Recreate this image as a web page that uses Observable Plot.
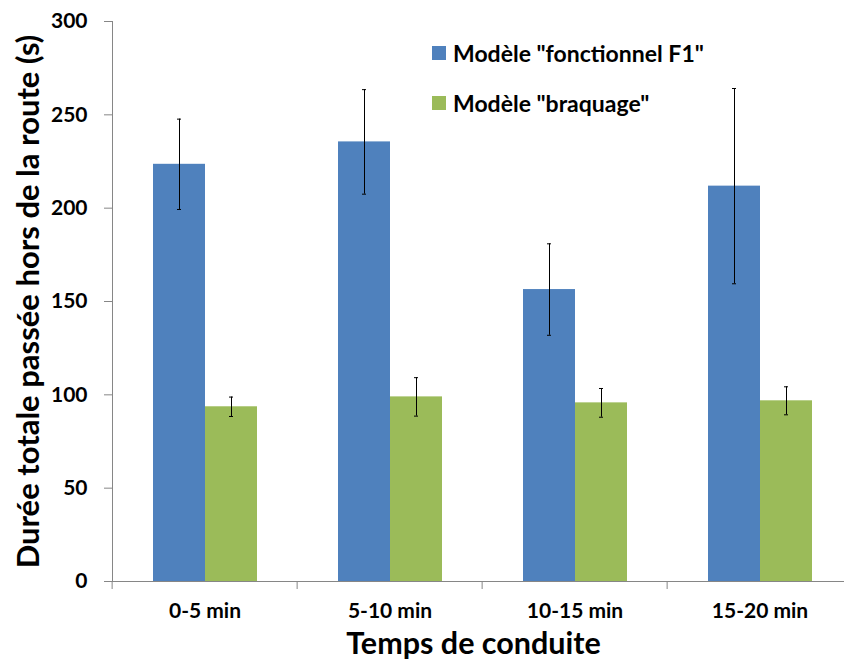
<!DOCTYPE html>
<html>
<head>
<meta charset="utf-8">
<script src="https://cdn.jsdelivr.net/npm/d3@7"></script>
<script src="https://cdn.jsdelivr.net/npm/@observablehq/plot@0.6"></script>
<style>
  html, body { margin: 0; padding: 0; background: #fff; overflow: hidden; }
  #wrap { position: relative; width: 844px; height: 664px; }
  #legend { position: absolute; left: 432px; top: 28px; }
  #legend .leg-swatches { margin: 0; min-height: 0; }
  #legend .leg-swatch { height: 50px; display: flex; align-items: center; padding: 0; margin: 0; }
  #legend .leg-swatch > svg { margin-right: 7px; }
</style>
</head>
<body>
<div id="wrap"><div id="chart"></div><div id="legend"></div></div>
<script>
// ---- data ----
const categories = ["0-5 min", "5-10 min", "10-15 min", "15-20 min"];
const series = ['Modèle "fonctionnel F1"', 'Modèle "braquage"'];
const f1Values = [223.5, 235.5, 156.4, 211.8];
const f1Errors = [24.2, 28.0, 24.5, 52.3];
const braquageValues = [93.6, 98.9, 95.7, 96.8];
const braquageErrors = [5.2, 10.3, 7.7, 7.5];
const yTicks = [0, 50, 100, 150, 200, 250, 300];
const seriesColors = ["#4F81BD", "#9BBB59"];
const yLabel = "Durée totale passée hors de la route (s)";
const xLabel = "Temps de conduite";

const data = categories.flatMap((c, i) => [
  {cat: c, series: series[0], value: f1Values[i], err: f1Errors[i]},
  {cat: c, series: series[1], value: braquageValues[i], err: braquageErrors[i]}
]);

// ---- layout ----
const W = 844, H = 664;
const mL = 110, mR = -9, mT = 21, mB = 83;
const step = (W - mL - mR) / categories.length;
const font = "Lato, 'Open Sans', sans-serif";
const axisGray = "#868686";

const chart = Plot.plot({
  width: W, height: H,
  marginLeft: mL, marginRight: mR, marginTop: mT, marginBottom: mB,
  style: {fontFamily: font, fontWeight: "bold", fontSize: "21px", color: "#000", background: "#fff"},
  fx: {domain: categories, padding: 0, axis: null},
  x: {domain: series, paddingInner: 0, paddingOuter: 0.75, axis: null},
  y: {domain: [0, 300], axis: null},
  color: {domain: series, range: seriesColors},
  marks: [
    Plot.barY(data, {fx: "cat", x: "series", y: "value", fill: "series"}),
    Plot.ruleX(data, {fx: "cat", x: "series", y1: d => d.value - d.err, y2: d => d.value + d.err, stroke: "#000", strokeWidth: 1}),
    Plot.tickY(data, {fx: "cat", x: "series", y: d => d.value + d.err, insetLeft: 24, insetRight: 24, stroke: "#000"}),
    Plot.tickY(data, {fx: "cat", x: "series", y: d => d.value - d.err, insetLeft: 24, insetRight: 24, stroke: "#000"}),
    Plot.ruleY([0], {stroke: axisGray}),
    Plot.frame({anchor: "left", facetAnchor: "left", stroke: axisGray}),
    Plot.axisY(yTicks, {
      anchor: "left", tickSize: 8, tickPadding: 17, fontSize: 21, stroke: axisGray, color: "#000",
      label: yLabel, labelAnchor: "center", labelArrow: "none", labelOffset: 96
    }),
    Plot.axisFx({
      anchor: "bottom", tickSize: 0, tickPadding: 22, fontSize: 21,
      label: xLabel, labelAnchor: "center", labelArrow: "none", labelOffset: 72
    }),
    Plot.axisFx({anchor: "bottom", tickSize: 8, tickFormat: () => "", dx: -step / 2, stroke: axisGray, label: null})
  ]
});
document.getElementById("chart").appendChild(chart);

// font sizes: titles larger, tick labels 21px; x title centred on the visible frame
const tickLabelTexts = new Set([...yTicks.map(String), ...categories]);
chart.querySelectorAll("text").forEach(t => {
  if (t.textContent === yLabel) {
    t.style.fontSize = "31px";
  } else if (t.textContent === xLabel) {
    t.style.fontSize = "30.5px";
    const g = document.createElementNS("http://www.w3.org/2000/svg", "g");
    g.setAttribute("transform", `translate(${mR},0)`);
    t.parentNode.insertBefore(g, t);
    g.appendChild(t);
  } else if (tickLabelTexts.has(t.textContent)) {
    t.style.fontSize = "21px";
  }
});

const legend = Plot.legend({
  color: {domain: series, range: seriesColors},
  columns: 1, swatchSize: 14, className: "leg",
  style: {fontFamily: font, fontWeight: "bold", fontSize: "23px", color: "#000"}
});
document.getElementById("legend").appendChild(legend);
</script>
</body>
</html>
